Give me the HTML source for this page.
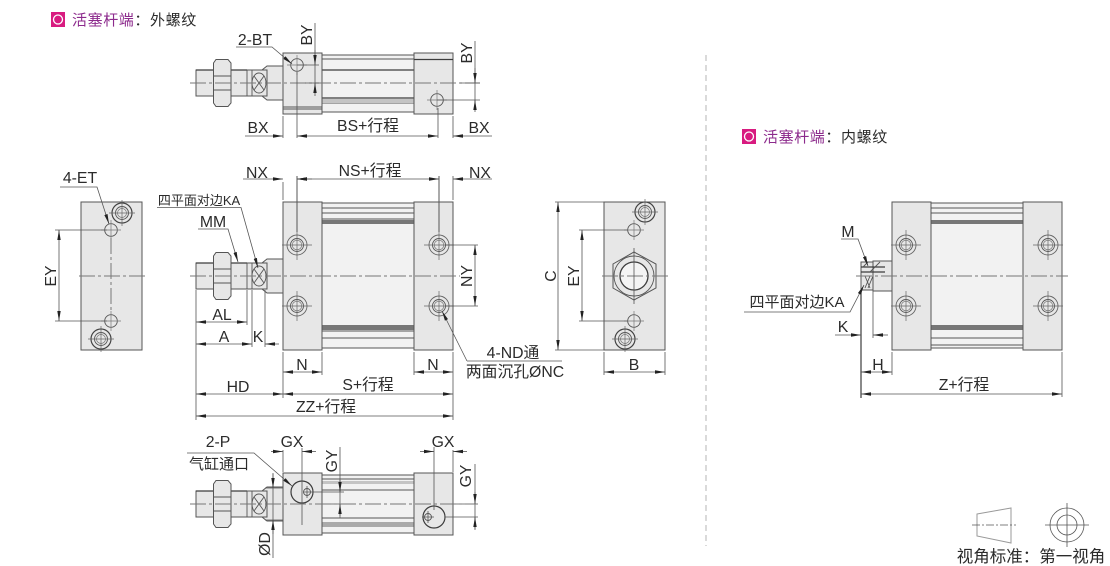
<!DOCTYPE html>
<html><head><meta charset="utf-8"><style>
html,body{margin:0;padding:0;background:#fff}
svg{display:block}
text{font-family:"Liberation Sans","Noto Sans CJK SC",sans-serif;font-size:15.8px;fill:#2b2b2b;text-anchor:middle}
.s{text-anchor:start}
.m{fill:#8c2a8c}
.p{fill:#e7e7e7;stroke:#555;stroke-width:1}
.t{fill:#f2f2f2;stroke:#555;stroke-width:1}
.l{stroke:#555;stroke-width:.9;fill:none}
.k{stroke:#3c3c3c;stroke-width:1.2;fill:none}
.g{stroke:#999;stroke-width:1;fill:none}
.d{stroke:#555;stroke-width:.8;fill:none}
.c{stroke:#777;stroke-width:1;stroke-dasharray:16,3,3,3;fill:none}
.a{marker-end:url(#a)}
.b{marker-start:url(#b);marker-end:url(#a)}
</style></head><body>
<svg width="1110" height="566" viewBox="0 0 1110 566" xmlns="http://www.w3.org/2000/svg">
<defs>
<marker id="a" markerUnits="userSpaceOnUse" markerWidth="11" markerHeight="6" refX="10" refY="2.5" orient="auto"><path d="M0,0.8L10,2.5L0,4.2Z" fill="#222"/></marker>
<marker id="b" markerUnits="userSpaceOnUse" markerWidth="11" markerHeight="6" refX="0" refY="2.5" orient="auto"><path d="M10,0.8L0,2.5L10,4.2Z" fill="#222"/></marker>
<g id="h"><circle r="10" fill="none" stroke="#666" stroke-width=".9"/><circle r="6.5" fill="none" stroke="#555" stroke-width=".9"/><circle r="4.8" fill="none" stroke="#777" stroke-width=".7"/><path d="M-15,0H15M0,-15V15" stroke="#666" stroke-width=".7"/></g>
<g id="H"><circle r="10" fill="none" stroke="#444" stroke-width="1.2"/><circle r="6.5" fill="none" stroke="#555" stroke-width=".9"/><circle r="4.5" fill="none" stroke="#777" stroke-width=".7"/><path d="M-13,0H13M0,-13V13" stroke="#666" stroke-width=".7"/></g>
<g id="s"><circle r="6.3" fill="none" stroke="#555" stroke-width=".9"/><path d="M-10,0H10M0,-10V10" stroke="#777" stroke-width=".7"/></g>
<g id="rod">
<path class="p" d="M267,-17H283V17H267L262,13V-13Z"/>
<rect class="p" x="196" y="-13" width="71" height="26"/>
<path class="k" d="M196,-13H247"/>
<path class="l" d="M247,-13V13M252,-13V13"/>
<ellipse class="l" cx="259" cy="0" rx="7" ry="10"/>
<path class="l" d="M254,-7L264,7M264,-7L254,7"/>
<path class="p" d="M216,-23.500H228L231,-20V20L228,23.500H216L213.500,20V-20Z"/>
<path class="l" d="M214,-7H231M214,7H231"/>
</g>
</defs>

<!-- header left -->
<rect x="51" y="12" width="14" height="15" fill="#d81b80"/><circle cx="58" cy="19.500" r="4.500" fill="none" stroke="#fff" stroke-width="1.300"/>
<text x="72" y="25" class="s" style="font-size:15px;letter-spacing:.6px"><tspan class="m">活塞杆端</tspan>：外螺纹</text>
<!-- header right -->
<rect x="742" y="129" width="14" height="15" fill="#d81b80"/><circle cx="749" cy="136.500" r="4.500" fill="none" stroke="#fff" stroke-width="1.300"/>
<text x="763" y="142" class="s" style="font-size:15px;letter-spacing:.6px"><tspan class="m">活塞杆端</tspan>：内螺纹</text>

<line x1="706" y1="55" x2="706" y2="546" stroke="#b5b5b5" stroke-dasharray="6,4"/>

<!-- TOP VIEW -->
<use href="#rod" transform="translate(0,83)"/>
<rect class="t" x="322" y="55" width="92" height="57"/>
<path class="l" d="M322,59H414M322,103H414"/>
<path class="k" d="M322,70H414M322,98H414"/>
<rect x="322" y="99" width="92" height="4" fill="#c4c4c4"/>
<rect class="p" x="283" y="53" width="39" height="61"/>
<rect class="p" x="414" y="53" width="39" height="61"/>
<path class="l" d="M283,107H322M283,109H322"/>
<path class="k" d="M414,59.500H453"/>
<use href="#s" transform="translate(297,65)"/><use href="#s" transform="translate(437,100)"/>
<line class="c" x1="190" y1="83" x2="480" y2="83"/>
<path class="d" d="M283,116V138M453,116V138M297,72V138M438,108V138M297,65H319M315,23V90M437,100H480M305,83H319M460,83H480M475,41V112"/>
<path class="a d" d="M245,136H283"/><path class="b d" d="M297,136H438"/><path class="a d" d="M492,136H453"/>
<path class="a d" d="M315,50V65"/><path class="a d" d="M315,96V83"/>
<path class="a d" d="M475,68V83"/><path class="a d" d="M475,110V100"/>
<path class="a d" d="M236,47H272L292,64"/>
<text x="255" y="45">2-BT</text>
<text x="258" y="133">BX</text><text x="368" y="131">BS+行程</text><text x="479" y="133">BX</text>
<text transform="translate(312,35) rotate(-90)">BY</text>
<text transform="translate(472,53) rotate(-90)">BY</text>

<!-- LEFT VIEW -->
<rect class="p" x="81" y="202" width="61" height="148"/>
<line class="c" x1="79" y1="276" x2="145" y2="276"/>
<line class="c" x1="111" y1="238" x2="111" y2="312"/>
<use href="#s" transform="translate(111,230)"/><use href="#s" transform="translate(111,321)"/>
<use href="#H" transform="translate(122,213)"/><use href="#H" transform="translate(101,339)"/>
<path class="d" d="M55,230H107M55,321H107"/>
<path class="b d" d="M59,230V321"/>
<text transform="translate(56,276) rotate(-90)">EY</text>
<text x="80" y="183">4-ET</text>
<path class="a d" d="M60,187H97L109,224"/>

<!-- MAIN VIEW -->
<use href="#rod" transform="translate(0,276)"/>
<rect class="t" x="322" y="203" width="92" height="145"/>
<path class="l" d="M322,208H414M322,213H414M322,219H414M322,331H414M322,338H414"/>
<rect x="322" y="220" width="92" height="4" fill="#777"/>
<rect x="322" y="325" width="92" height="5" fill="#777"/>
<rect class="p" x="283" y="202" width="39" height="148"/>
<rect class="p" x="414" y="202" width="39" height="148"/>
<use href="#h" transform="translate(297,245)"/><use href="#h" transform="translate(297,306)"/>
<use href="#h" transform="translate(439,245)"/><use href="#h" transform="translate(439,306)"/>
<line class="c" x1="190" y1="276" x2="460" y2="276"/>
<path class="d" d="M297,176V232M439,176V232" style="stroke-width:1"/>
<path class="d" d="M283,182V200M453,176V200M445,245H478M445,306H478M283,352V398M322,352V375M414,352V375M453,352V420M196,290V420M247,290V325M252,290V347M265,290V347"/>
<path class="a d" d="M243,179H283"/><path class="b d" d="M297,179H439"/><path class="a d" d="M492,179H453"/><path class="a d" d="M312,179H297"/>
<path class="b d" d="M475,245V306"/>
<path class="d" d="M467,361H562"/>
<path class="a d" d="M467,361L442,311"/>
<path class="b d" d="M283,372H322"/><path class="b d" d="M414,372H453"/>
<path class="b d" d="M283,394H453"/><path class="b d" d="M196,394H283"/><path class="b d" d="M196,416H453"/>
<path class="b d" d="M196,322H247"/><path class="b d" d="M196,344H252"/><path class="a d" d="M279,344H265"/>
<path class="a d" d="M157,207.500H241L258,268"/>
<path class="a d" d="M198,229H228L238,262"/>
<text x="257" y="178">NX</text><text x="370" y="176">NS+行程</text><text x="480" y="178">NX</text>
<text transform="translate(472,276) rotate(-90)">NY</text>
<text x="513" y="358">4-ND通</text><text x="515" y="377">两面沉孔ØNC</text>
<text x="302" y="370">N</text><text x="433" y="370">N</text>
<text x="368" y="390">S+行程</text><text x="238" y="392">HD</text><text x="326" y="412">ZZ+行程</text>
<text x="222" y="320">AL</text><text x="224" y="342">A</text><text x="258" y="342">K</text>
<text x="199" y="205" style="font-size:13px">四平面对边KA</text>
<text x="213" y="227">MM</text>

<!-- RIGHT END VIEW -->
<rect class="p" x="604" y="202" width="61" height="148"/>
<path d="M634,252L656,264V288L634,300L613,288V264Z" class="p"/>
<circle cx="634" cy="276" r="20" class="l"/><circle cx="634" cy="276" r="14" style="fill:#f4f4f4;stroke:#3c3c3c;stroke-width:1.300"/>
<line class="c" x1="602" y1="276" x2="668" y2="276"/>
<line class="d" x1="634" y1="248" x2="634" y2="304"/>
<use href="#s" transform="translate(634,230)"/><use href="#s" transform="translate(634,321)"/>
<use href="#H" transform="translate(645,212)"/><use href="#H" transform="translate(625,339)"/>
<path class="d" d="M555,202H604M555,350H604M579,230H628M579,321H628M604,352V375M665,352V375"/>
<path class="b d" d="M558,202V350"/><path class="b d" d="M582,230V321"/><path class="b d" d="M604,372H665"/>
<text transform="translate(556,276) rotate(-90)">C</text>
<text transform="translate(579,276) rotate(-90)">EY</text>
<text x="634" y="370">B</text>

<!-- BOTTOM VIEW -->
<use href="#rod" transform="translate(0,504)"/>
<rect class="t" x="322" y="475" width="92" height="58"/>
<path class="l" d="M322,479H414M322,490H414M322,518H414M322,523H414"/>
<rect x="322" y="522" width="92" height="5" fill="#aaa"/>
<rect x="322" y="481" width="92" height="3" fill="#c4c4c4"/>
<rect class="p" x="283" y="473" width="39" height="62"/>
<rect class="p" x="414" y="473" width="39" height="62"/>
<circle cx="302" cy="492" r="11" class="k"/><circle cx="434" cy="517" r="11" class="k"/>
<circle cx="307" cy="492" r="3.500" class="l"/><circle cx="428" cy="517" r="3.500" class="l"/>
<path class="d" d="M303,492H344M307,486V498M422,517H434M428,511V523M434,447V510M302,448V525M283,450V472M453,450V472M340,447V518M322,504H344M475,464V530M445,517H478M453,504H478M265,488H283M265,520H283M273,473V558"/>
<line class="c" x1="190" y1="504" x2="478" y2="504"/>
<path class="a d" d="M271,451.500H283"/><path class="a d" d="M316,451.500H302"/>
<path class="a d" d="M420,451.500H434"/><path class="a d" d="M467,451.500H453"/>
<path class="a d" d="M340,480V492"/><path class="a d" d="M340,516V504"/>
<path class="a d" d="M475,492V504"/><path class="a d" d="M475,529V517"/>
<path class="a d" d="M273,474V488"/><path class="a d" d="M273,534V520"/>
<path class="a d" d="M187,453H254L292,486"/>
<text x="218" y="447">2-P</text><text x="219" y="469" style="font-size:15px">气缸通口</text>
<text x="292" y="447">GX</text><text x="443" y="447">GX</text>
<text transform="translate(337,461) rotate(-90)">GY</text>
<text transform="translate(471,476) rotate(-90)">GY</text>
<text transform="translate(270,544) rotate(-90)">ØD</text>

<!-- RIGHT DRAWING -->
<path class="p" d="M873,261H892V291H873Z"/>
<rect class="p" x="861" y="262" width="12" height="28"/>
<path class="k" d="M861,267H885M861,272H885"/>
<path class="l" d="M863,267L868,262M870,272L880,262M865,276L870,288M870,276L865,288M873,276L868,288"/>
<rect class="t" x="931" y="203" width="92" height="145"/>
<path class="l" d="M931,208H1023M931,213H1023M931,338H1023M931,345H1023"/>
<rect x="931" y="220" width="92" height="4" fill="#777"/>
<rect x="931" y="325" width="92" height="5" fill="#777"/>
<rect class="p" x="892" y="202" width="39" height="148"/>
<rect class="p" x="1023" y="202" width="39" height="148"/>
<use href="#h" transform="translate(906,245)"/><use href="#h" transform="translate(906,306)"/>
<use href="#h" transform="translate(1048,245)"/><use href="#h" transform="translate(1048,306)"/>
<line class="c" x1="856" y1="276" x2="1068" y2="276"/>
<path class="k" d="M861,290V398"/>
<path class="d" d="M873,290V338M892,352V375M1062,352V397"/>
<path class="a d" d="M835,335H861"/><path class="a d" d="M888,335H873"/>
<path class="b d" d="M861,372H892"/><path class="b d" d="M861,394H1062"/>
<path class="a d" d="M841,239H858L868,266"/>
<path class="a d" d="M744,312H850L864,285"/>
<text x="848" y="237">M</text><text x="797" y="307" style="font-size:15px">四平面对边KA</text>
<text x="843" y="332">K</text><text x="878" y="370">H</text><text x="964" y="390">Z+行程</text>

<!-- VIEW ICON -->
<path d="M977,514L1011,508V543L977,536Z" class="g"/>
<path d="M972,525H1016" class="d" style="stroke-dasharray:8,2,2,2"/>
<g class="d"><circle cx="1067" cy="525" r="17"/><circle cx="1067" cy="525" r="10"/><path d="M1045,525H1089M1067,503V547"/></g>
<text x="1031" y="562" style="font-size:16.500px">视角标准：第一视角</text>
</svg>
</body></html>
